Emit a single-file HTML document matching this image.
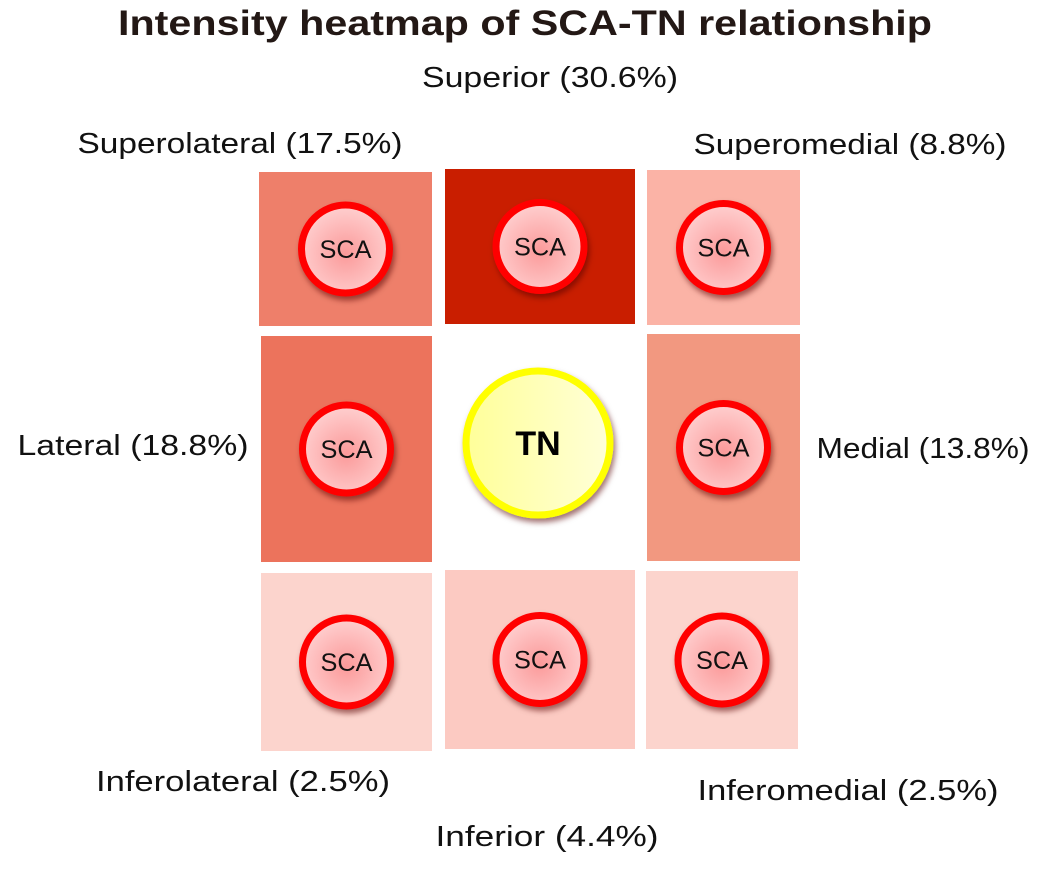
<!DOCTYPE html>
<html><head><meta charset="utf-8">
<style>
body{margin:0;background:#fff;width:1050px;height:865px;overflow:hidden;font-family:"Liberation Sans",sans-serif}
</style></head>
<body>
<svg id="chart" width="1050" height="865" xmlns="http://www.w3.org/2000/svg">
<defs>
<radialGradient id="scaFill" cx="50%" cy="55%" r="55%"><stop offset="0" stop-color="#fb9a9a"/><stop offset="1" stop-color="#ffd0d0"/></radialGradient>
<linearGradient id="tnFill" x1="0" x2="1"><stop offset="0" stop-color="#ffff99"/><stop offset="1" stop-color="#ffffd8"/></linearGradient>
<filter id="sh" x="-30%" y="-30%" width="160%" height="160%"><feDropShadow dx="2" dy="4" stdDeviation="3" flood-color="#500" flood-opacity="0.55"/></filter>
</defs>
<text x="525" y="35" text-anchor="middle" font-size="35" font-weight="bold" fill="#231815" textLength="814" lengthAdjust="spacingAndGlyphs">Intensity heatmap of SCA-TN relationship</text>
</svg>
<script>
const positions = ["Superolateral","Superior","Superomedial","Lateral","Medial","Inferolateral","Inferior","Inferomedial"];
const percents = [17.5,30.6,8.8,18.8,13.8,2.5,4.4,2.5];
// layout (not data)
const cells = [[259,172,173,154],[445,169,190,155],[647,170,153,155],[261,336,171,226],[647,334,153,227],[261,573,171,178],[445,570,190,179],[646,571,152,178]];
const labelPos = [[240,153,325],[550,87,256],[850,154,313],[133,455,231],[923,458,213],[243,791,294],[547,846,223],[848,800,301]];
const stops=[[0,[253,224,220]],[4.4,[252,202,194]],[8.8,[251,179,166]],[13.8,[242,152,128]],[17.5,[238,127,106]],[18.8,[236,115,92]],[30.6,[201,30,0]]];
function color(v){for(let i=1;i<stops.length;i++){if(v<=stops[i][0]){const a=stops[i-1],b=stops[i],t=(v-a[0])/(b[0]-a[0]);return 'rgb('+a[1].map((c,k)=>Math.round(c+(b[1][k]-c)*t)).join(',')+')';}}return 'rgb(201,30,0)';}
const svg=document.getElementById('chart');const NS='http://www.w3.org/2000/svg';
function mk(tag,at){const e=document.createElementNS(NS,tag);for(const k in at)e.setAttribute(k,at[k]);svg.appendChild(e);return e;}
positions.forEach((p,i)=>{
 const [x,y,w,h]=cells[i];const slug=p.toLowerCase();
 const r=mk('rect',{x,y,width:w,height:h,fill:color(percents[i])});
 
 
 const cx=x+w/2,cy=y+h/2;
 const c=mk('circle',{cx,cy,r:44,fill:'url(#scaFill)',stroke:'#ff0000','stroke-width':7,filter:'url(#sh)'});
 
 
 const t=mk('text',{x:cx,y:cy+9,'text-anchor':'middle','font-size':25,fill:'#111',textLength:52,lengthAdjust:'spacingAndGlyphs'});t.textContent='SCA';
 
 
 const [lx,ly,lw]=labelPos[i];
 const l=mk('text',{x:lx,y:ly,'text-anchor':'middle','font-size':29,fill:'#111',textLength:lw,lengthAdjust:'spacingAndGlyphs'});l.textContent=p+' ('+percents[i]+'%)';
 
 
});
const tn=mk('circle',{cx:538,cy:443,r:72,fill:'url(#tnFill)',stroke:'#ffff00','stroke-width':7,filter:'url(#sh)'});


const tt=mk('text',{x:538,y:455,'text-anchor':'middle','font-size':34,'font-weight':'bold',fill:'#000'});tt.textContent='TN';


</script>
</body></html>
